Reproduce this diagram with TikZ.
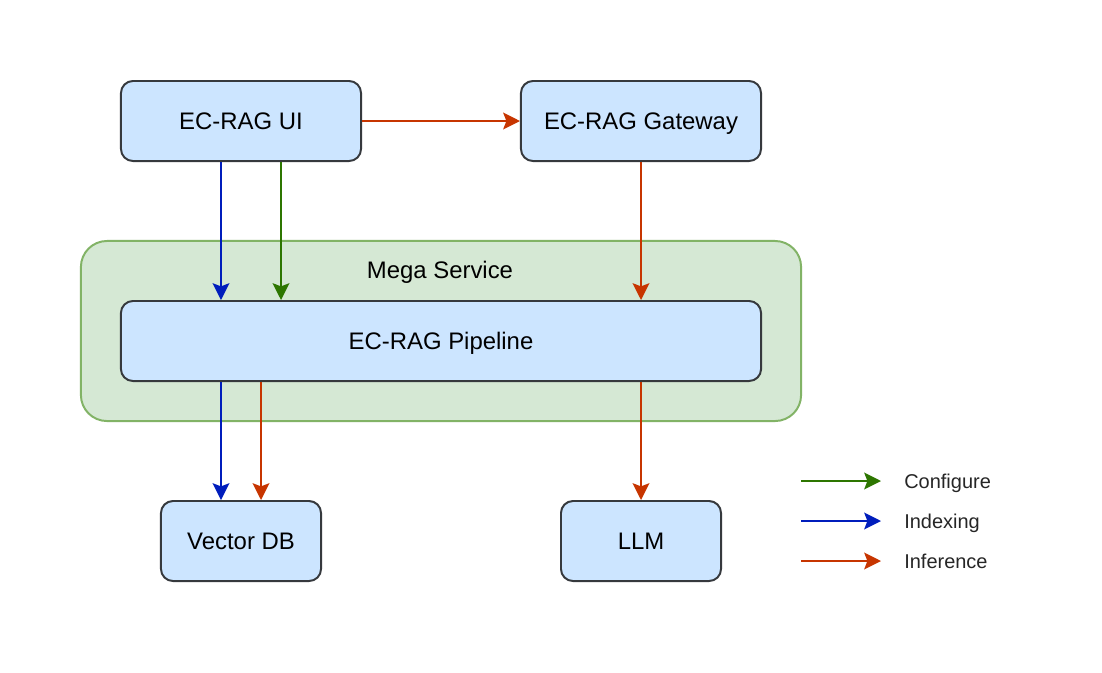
\documentclass[tikz,border=0pt]{standalone}
\usepackage{fontspec}
\setmainfont{Liberation Sans}
\usetikzlibrary{arrows.meta}
\definecolor{boxfill}{HTML}{CCE5FF}
\definecolor{boxline}{HTML}{36393D}
\definecolor{megafill}{HTML}{D5E8D4}
\definecolor{megaline}{HTML}{82B366}
\definecolor{cfgcol}{HTML}{2D7600}
\definecolor{idxcol}{HTML}{001DBC}
\definecolor{infcol}{HTML}{C73500}
\begin{document}
\begin{tikzpicture}[x=0.025cm,y=-0.025cm,
  comp/.style={draw=boxline,fill=boxfill,line width=1.4pt,rounded corners=0.3cm,
    minimum width=6cm,minimum height=2cm,inner sep=0,text height=12.2pt,text depth=0pt,
    font=\fontsize{17pt}{20pt}\selectfont},
  flow/.style={line width=1.4pt,-{Stealth[length=0.42cm,width=0.42cm,inset=0.08cm]}},
  legtext/.style={anchor=west,inner sep=0,text height=10.2pt,text depth=0pt,
    font=\fontsize{14.2pt}{17pt}\selectfont,text=black!85}]
\useasboundingbox(0,0)rectangle(1102,672);
\node[draw=megaline,fill=megafill,line width=1.4pt,rounded corners=0.65cm,minimum width=18cm,minimum height=4.5cm](Mega)at(441,331){};
\node[inner sep=0,text height=12.2pt,text depth=0pt,font=\fontsize{17pt}{20pt}\selectfont](MegaL)at(440,270){Mega Service};
\node[comp](UI)at(241,121){EC-RAG UI};
\node[comp](GW)at(641,121){EC-RAG Gateway};
\node[comp,minimum width=16cm](Pipe)at(441,341){EC-RAG Pipeline};
\node[comp,minimum width=4cm](VDB)at(241,541){Vector DB};
\node[comp,minimum width=4cm](LLM)at(641,541){LLM};
\draw[flow,infcol](UI)--(GW);
\draw[flow,idxcol]([xshift=-0.5cm]UI.south)--([xshift=-0.5cm]UI.south |- Pipe.north);
\draw[flow,cfgcol]([xshift=1cm]UI.south)--([xshift=1cm]UI.south |- Pipe.north);
\draw[flow,infcol](GW.south)--(GW.south |- Pipe.north);
\draw[flow,idxcol]([xshift=-0.5cm]VDB.north |- Pipe.south)--([xshift=-0.5cm]VDB.north);
\draw[flow,infcol]([xshift=0.5cm]VDB.north |- Pipe.south)--([xshift=0.5cm]VDB.north);
\draw[flow,infcol](LLM.north |- Pipe.south)--(LLM.north);
% legende
\coordinate(cfgA)at(801,481);\coordinate(cfgB)at(881,481);
\coordinate(idxA)at(801,521);\coordinate(idxB)at(881,521);
\coordinate(infA)at(801,561);\coordinate(infB)at(881,561);
\draw[flow,cfgcol](cfgA)--(cfgB);
\draw[flow,idxcol](idxA)--(idxB);
\draw[flow,infcol](infA)--(infB);
\node[legtext](cfg)at(904,481){Configure};
\node[legtext](idx)at(904,521){Indexing};
\node[legtext](inf)at(904,561){Inference};
\end{tikzpicture}
\end{document}
